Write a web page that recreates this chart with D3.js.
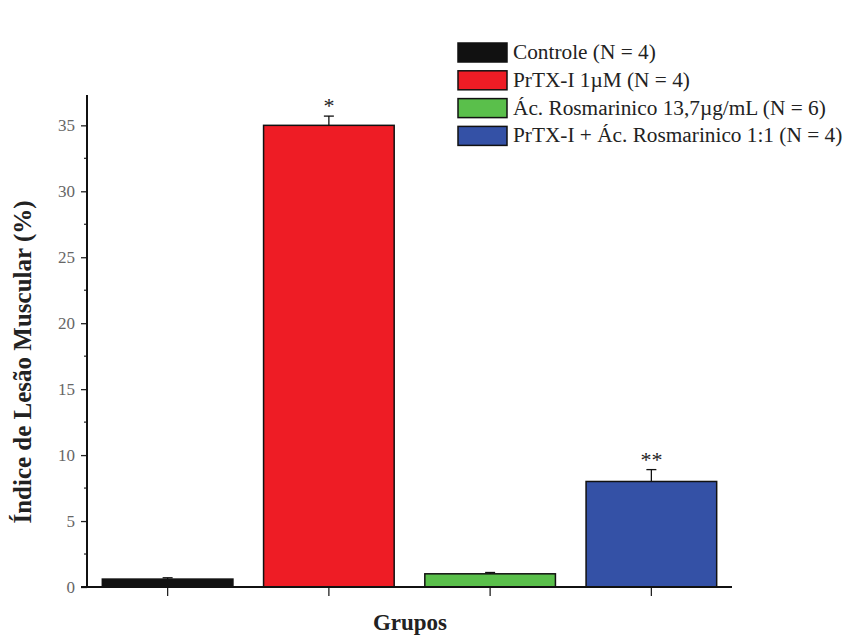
<!DOCTYPE html>
<html>
<head>
<meta charset="utf-8">
<script src="https://cdn.jsdelivr.net/npm/d3@7"></script>
<style>
  html, body { margin: 0; padding: 0; background: #ffffff; }
  svg { display: block; }
  text { font-family: "Liberation Serif", "DejaVu Serif", serif; }
</style>
</head>
<body>
<svg id="chart" width="855" height="637"></svg>
<script>
// Groups, means, SEM and significance marks
const groups = ["Controle (N = 4)", "PrTX-I 1µM (N = 4)", "Ác. Rosmarinico 13,7µg/mL (N = 6)", "PrTX-I + Ác. Rosmarinico 1:1 (N = 4)"];
const means = [0.6, 35.0, 1.0, 8.0];
const errors = [0.1, 0.7, 0.1, 0.9];
const marks = ["", "*", "", "**"];
const colors = ["#111111", "#ee1c25", "#5abf4b", "#3451a6"];
const yTicks = [0, 5, 10, 15, 20, 25, 30, 35];
const yMinorTicks = [2.5, 7.5, 12.5, 17.5, 22.5, 27.5, 32.5];

const svg = d3.select("#chart");
const plotLeft = 87, plotRight = 732, plotBottom = 587, plotTop = 95;

const x = d3.scaleBand().domain(groups).range([plotLeft, plotRight]).padding(0);
const barW = x.bandwidth() * 0.81;
const y = d3.scaleLinear().domain([0, 37.3]).range([plotBottom, plotTop]);

// Bars
svg.append("g").selectAll("rect").data(groups).join("rect")
  .attr("x", d => x(d) + (x.bandwidth() - barW) / 2)
  .attr("y", (d, i) => y(means[i]))
  .attr("width", barW)
  .attr("height", (d, i) => y(0) - y(means[i]))
  .attr("fill", (d, i) => colors[i])
  .attr("stroke", "#111")
  .attr("stroke-width", 1.5);

// Upper error bars
const eg = svg.append("g").attr("stroke", "#111").attr("stroke-width", 1.3);
groups.forEach((g, i) => {
  const cx = x(g) + x.bandwidth() / 2;
  eg.append("line").attr("x1", cx).attr("x2", cx).attr("y1", y(means[i])).attr("y2", y(means[i] + errors[i]));
  eg.append("line").attr("x1", cx - 5).attr("x2", cx + 5).attr("y1", y(means[i] + errors[i])).attr("y2", y(means[i] + errors[i]));
});

// Significance marks
svg.append("g").selectAll("text").data(groups).join("text")
  .attr("x", d => x(d) + x.bandwidth() / 2)
  .attr("y", (d, i) => y(means[i] + errors[i]) - 3)
  .attr("text-anchor", "middle")
  .attr("font-size", 22)
  .attr("fill", "#222")
  .text((d, i) => marks[i]);

// Y axis
const yAxis = svg.append("g").attr("transform", `translate(${plotLeft},0)`)
  .call(d3.axisLeft(y).tickValues(yTicks).tickSize(6).tickPadding(6).tickFormat(d3.format("d")));
yAxis.select(".domain").remove();
yAxis.selectAll(".tick line").attr("stroke", "#222").attr("stroke-width", 1.3);
yAxis.selectAll(".tick text").attr("font-size", 17).attr("fill", "#666")
  .style("font-family", "'Liberation Serif', serif");
svg.append("g").selectAll("line").data(yMinorTicks).join("line")
  .attr("x1", plotLeft - 3).attr("x2", plotLeft).attr("y1", d => y(d)).attr("y2", d => y(d))
  .attr("stroke", "#222").attr("stroke-width", 1.2);
svg.append("line").attr("x1", plotLeft).attr("x2", plotLeft).attr("y1", y(37.3)).attr("y2", plotBottom + 1)
  .attr("stroke", "#111").attr("stroke-width", 2);

// X axis
const xAxis = svg.append("g").attr("transform", `translate(0,${plotBottom})`)
  .call(d3.axisBottom(x).tickSize(9).tickFormat(""));
xAxis.select(".domain").remove();
xAxis.selectAll(".tick line").attr("stroke", "#222").attr("stroke-width", 1.3);
svg.append("line").attr("x1", plotLeft - 6).attr("x2", plotRight).attr("y1", plotBottom).attr("y2", plotBottom)
  .attr("stroke", "#111").attr("stroke-width", 2);

// Axis titles
svg.append("text").attr("x", 410).attr("y", 630).attr("text-anchor", "middle")
  .attr("font-size", 23).attr("font-weight", "bold").attr("fill", "#222").text("Grupos");
svg.append("text").attr("transform", `translate(31,${(plotTop + plotBottom) / 2 + 21}) rotate(-90)`)
  .attr("text-anchor", "middle").attr("font-size", 25).attr("font-weight", "bold").attr("fill", "#222")
  .text("Índice de Lesão Muscular (%)");

// Legend
const leg = svg.append("g").attr("transform", "translate(458,43)");
groups.forEach((g, i) => {
  const row = leg.append("g").attr("transform", `translate(0,${i * 27.8})`);
  row.append("rect").attr("x", 0).attr("y", 0).attr("width", 49).attr("height", 19)
    .attr("fill", colors[i]).attr("stroke", "#111").attr("stroke-width", 1.5);
  row.append("text").attr("x", 55).attr("y", 16).attr("font-size", 21.3).attr("fill", "#222").text(g);
});
</script>
</body>
</html>
